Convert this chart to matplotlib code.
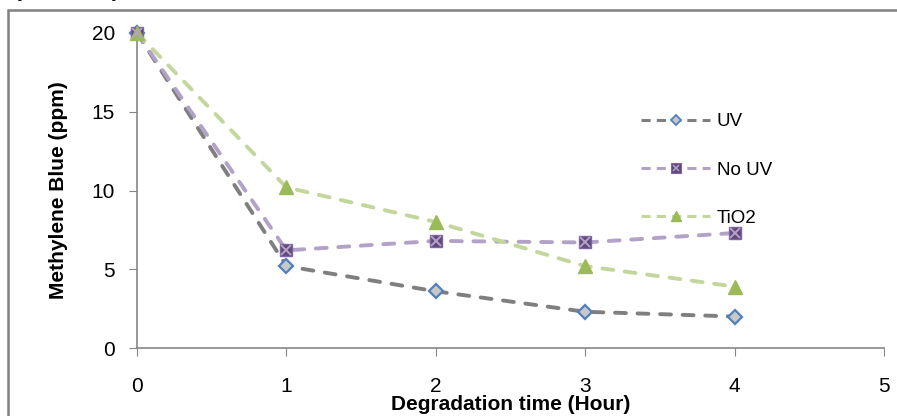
import numpy as np
import matplotlib.pyplot as plt
from matplotlib.patches import Rectangle
from matplotlib.legend_handler import HandlerTuple

# data
hours = [0, 1, 2, 3, 4]
uv = [20, 5.2, 3.6, 2.3, 2.0]
no_uv = [20, 6.2, 6.8, 6.7, 7.3]
tio2 = [20, 10.2, 8.0, 5.2, 3.9]

x_ticks = [0, 1, 2, 3, 4, 5]
y_ticks = [0, 5, 10, 15, 20]

plt.rcParams['font.family'] = ['Liberation Sans', 'DejaVu Sans']
plt.rcParams['mathtext.fontset'] = 'stix'

fig = plt.figure(figsize=(8.97, 4.16), dpi=100)
ax = fig.add_axes([137/897, 68/416, 747/897, 315/416])

dash = (0, (2.8, 3.0))
kw = dict(lw=2.8, ls=dash, dash_capstyle='round', clip_on=False, zorder=3)
ax.plot(hours, uv, color='#7f7f7f', marker='D', ms=7,
        mfc='#c8c8c8', mec='#4f81bd', mew=1.6, **kw)
ax.plot(hours, no_uv, color='#b3a2c7', marker='s', ms=9,
        mfc='#604a7b', mec='#8064a2', mew=1.0, **kw)
ax.plot(hours, no_uv, ls='none', marker='x', ms=7, mec='#b3a2c7',
        mew=1.4, clip_on=False, zorder=4)
ax.plot(hours, tio2, color='#c3d69b', marker='^', ms=10,
        mfc='#9bbb59', mec='#9bbb59', **kw)

ax.set_xlim(0, 5)
ax.set_ylim(0, 20)
ax.set_xticks(x_ticks)
ax.set_yticks(y_ticks)
for s in ['top', 'right']:
    ax.spines[s].set_visible(False)
for s in ['left', 'bottom']:
    ax.spines[s].set_color('#868686')
    ax.spines[s].set_linewidth(1.2)
ax.tick_params(axis='x', direction='out', length=6, color='#868686', pad=15, labelsize=15)
ax.tick_params(axis='y', direction='out', length=6, color='#868686', pad=10, labelsize=15)

ax.set_xlabel('Degradation time (Hour)', fontsize=15, fontweight='bold', labelpad=-1)
ax.set_ylabel('Methylene Blue (ppm)', fontsize=15, fontweight='bold', labelpad=17)

# legend with small markers and thin dashes
h_uv, = ax.plot([], [], color='#7f7f7f', lw=2.2, ls=(0, (3, 2)), marker='D', ms=5,
                mfc='#c8c8c8', mec='#4f81bd', mew=1.3)
h_no, = ax.plot([], [], color='#b3a2c7', lw=2.2, ls=(0, (3, 2)), marker='s', ms=6.5,
                mfc='#604a7b', mec='#8064a2', mew=0.8)
h_nox, = ax.plot([], [], ls='none', marker='x', ms=5, mec='#b3a2c7', mew=1.1)
h_ti, = ax.plot([], [], color='#c3d69b', lw=2.2, ls=(0, (3, 2)), marker='^', ms=7,
                mfc='#9bbb59', mec='#9bbb59')
ax.legend([h_uv, (h_no, h_nox), h_ti], ['UV', 'No UV', 'TiO2'],
          handler_map={tuple: HandlerTuple(ndivide=1, pad=0)},
          loc='center left', bbox_to_anchor=(641/897, 1 - 170/416),
          bbox_transform=fig.transFigure, frameon=False, borderpad=0,
          borderaxespad=0, fontsize=13.5, handlelength=3.7, handletextpad=0.35,
          labelspacing=1.65)

# outer chart frame
fig.patches.append(Rectangle((8/897, -0.05), 1.0, (416-10)/416 + 0.05,
                             transform=fig.transFigure, fill=False,
                             edgecolor='#808080', lw=1.8))

# caption line cut off at the top of the picture
fig.text(-78/897, 1 + 4/416,
         'Photocatalytic activity test result Fe$_3$O$_4$/SiO$_2$/TiO$_2$',
         fontsize=16, fontstyle='italic', family='Liberation Serif',
         ha='left', va='baseline')

fig.savefig('out.png', dpi=100)
